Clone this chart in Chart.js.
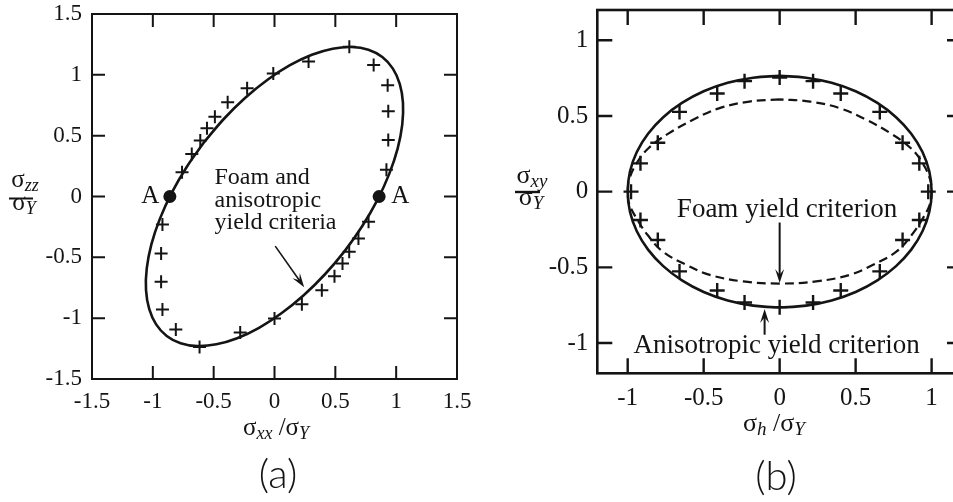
<!DOCTYPE html>
<html>
<head>
<meta charset="utf-8">
<script src="https://cdn.jsdelivr.net/npm/chart.js"></script>
<style>
  html, body { margin: 0; padding: 0; background: #fff; overflow: hidden; }
  #wrap { position: relative; width: 953px; height: 502px; overflow: hidden; }
  #box_a { position: absolute; left: 0; top: 0; }
  #box_b { position: absolute; left: 476px; top: 0; }
</style>
</head>
<body>
<div id="wrap">
  <div id="box_a"><canvas id="chart_a" width="476" height="502"></canvas></div>
  <div id="box_b"><canvas id="chart_b" width="504" height="502"></canvas></div>
</div>
<script>
// ---- data ----

// (a) sigma_xx / sigma_zz plane
const ticksA = [-1.5, -1, -0.5, 0, 0.5, 1, 1.5]
const tickLabelsA = ['-1.5', '-1', '-0.5', '0', '0.5', '1', '1.5']

// solid curve: foam and anisotropic yield criteria (same in this plane)
const criterionA = [
  [-0.578, 0.447], [-0.723, 0.241], [-0.846, 0.028], [-0.943, -0.186], [-1.012, -0.394],
  [-1.050, -0.591], [-1.056, -0.769], [-1.030, -0.924], [-0.973, -1.051], [-0.886, -1.146],
  [-0.772, -1.206], [-0.635, -1.229], [-0.478, -1.215], [-0.307, -1.165], [-0.127, -1.079],
  [0.057, -0.960], [0.240, -0.812], [0.415, -0.639], [0.578, -0.447], [0.723, -0.241],
  [0.846, -0.028], [0.943, 0.186], [1.012, 0.394], [1.050, 0.591], [1.056, 0.769],
  [1.030, 0.924], [0.973, 1.051], [0.886, 1.146], [0.772, 1.206], [0.635, 1.229],
  [0.478, 1.215], [0.307, 1.165], [0.127, 1.079], [-0.057, 0.960], [-0.240, 0.812],
  [-0.415, 0.639], [-0.578, 0.447]
]

// "+" markers
const crossesA = [
  [-0.76, 0.20], [-0.68, 0.35], [-0.61, 0.46], [-0.555, 0.56], [-0.49, 0.655],
  [-0.385, 0.775], [-0.225, 0.89], [-0.01, 1.01], [0.28, 1.11], [0.615, 1.23],
  [0.815, 1.08], [0.93, 0.915], [0.935, 0.70], [0.935, 0.465], [0.92, 0.22],
  [0.773, -0.208], [0.69, -0.345], [0.614, -0.455], [0.559, -0.551], [0.493, -0.655],
  [0.389, -0.77], [0.225, -0.885], [0.0, -1.003], [-0.282, -1.118], [-0.616, -1.236],
  [-0.811, -1.093], [-0.921, -0.929], [-0.932, -0.701], [-0.932, -0.468], [-0.921, -0.23]
]

// points A
const pointsA = [[-0.86, 0], [0.86, 0]]

// (b) sigma_h / sigma_xy plane
const ticksB = [-1, -0.5, 0, 0.5, 1]
const tickLabelsB = ['-1', '-0.5', '0', '0.5', '1']

// solid curve: anisotropic yield criterion
const anisoB = [
  [0, 0.765], [-0.174, 0.753], [-0.342, 0.719], [-0.5, 0.663], [-0.643, 0.586], [-0.766, 0.492],
  [-0.866, 0.383], [-0.94, 0.262], [-0.985, 0.133], [-1, 0], [-0.985, -0.133], [-0.94, -0.262],
  [-0.866, -0.383], [-0.766, -0.492], [-0.643, -0.586], [-0.5, -0.663], [-0.342, -0.719], [-0.174, -0.753],
  [0, -0.765], [0.174, -0.753], [0.342, -0.719], [0.5, -0.663], [0.643, -0.586], [0.766, -0.492],
  [0.866, -0.383], [0.94, -0.262], [0.985, -0.133], [1, 0], [0.985, 0.133], [0.94, 0.262],
  [0.866, 0.383], [0.766, 0.492], [0.643, 0.586], [0.5, 0.663], [0.342, 0.719], [0.174, 0.753],
  [0, 0.765]
]

// dashed curve: foam yield criterion
const foamB = [
  [0, 0.61], [-0.2, 0.595], [-0.4, 0.55], [-0.57, 0.475], [-0.73, 0.385], [-0.86, 0.29],
  [-0.94, 0.19], [-0.99, 0.08], [-1, 0], [-0.99, -0.08], [-0.94, -0.18], [-0.87, -0.285],
  [-0.77, -0.395], [-0.615, -0.483], [-0.46, -0.55], [-0.24, -0.593], [0, -0.607], [0.24, -0.593],
  [0.46, -0.55], [0.615, -0.483], [0.77, -0.395], [0.87, -0.285], [0.94, -0.18], [0.99, -0.08],
  [1, 0], [0.99, 0.08], [0.94, 0.19], [0.86, 0.29], [0.73, 0.385], [0.57, 0.475],
  [0.4, 0.55], [0.2, 0.595], [0, 0.61]
]

// "+" markers
const crossesB = [
  [0, 0.754], [0.22, 0.73], [0.402, 0.648], [0.659, 0.527], [0.809, 0.323], [0.919, 0.187],
  [0.978, 0], [-0.231, 0.73], [-0.411, 0.648], [-0.659, 0.527], [-0.802, 0.323], [-0.916, 0.187],
  [-0.978, 0], [0, -0.763], [0.22, -0.732], [0.402, -0.653], [0.659, -0.527], [0.809, -0.319],
  [0.919, -0.187], [-0.231, -0.732], [-0.411, -0.653], [-0.659, -0.527], [-0.802, -0.319],
  [-0.916, -0.187]
]

// ---- drawing helpers ----
const INK = '#141414'
const SERIF = '"Liberation Serif", "Times New Roman", serif'
const LABEL_FONT = '300 40px Lato, "Open Sans", sans-serif'
const xy = arr => arr.map(p => ({x: p[0], y: p[1]}))

Chart.defaults.font.family = SERIF
Chart.defaults.color = INK

function rich(ctx, x, y, segs, align){
  let w = 0
  segs.forEach(s => { ctx.font = s.f; s.w = ctx.measureText(s.t).width; w += s.w })
  let cx = align === 'center' ? x - w / 2 : x
  ctx.textAlign = 'left'
  ctx.textBaseline = 'alphabetic'
  segs.forEach(s => { ctx.font = s.f; ctx.fillText(s.t, cx, y + (s.dy || 0)); cx += s.w })
}

function arrow(ctx, x1, y1, x2, y2, lw){
  const a = Math.atan2(y2 - y1, x2 - x1)
  const L = 14, W = 4.5
  ctx.lineWidth = lw
  ctx.beginPath()
  ctx.moveTo(x1, y1)
  ctx.lineTo(x2 - Math.cos(a) * 6, y2 - Math.sin(a) * 6)
  ctx.stroke()
  ctx.beginPath()
  ctx.moveTo(x2, y2)
  ctx.lineTo(x2 - L * Math.cos(a) + W * Math.sin(a), y2 - L * Math.sin(a) - W * Math.cos(a))
  ctx.lineTo(x2 - 0.6 * L * Math.cos(a), y2 - 0.6 * L * Math.sin(a))
  ctx.lineTo(x2 - L * Math.cos(a) - W * Math.sin(a), y2 - L * Math.sin(a) + W * Math.cos(a))
  ctx.closePath()
  ctx.fill()
}

// frame with inward ticks on all four sides
const framePlugin = {
  id: 'frame',
  afterDraw(chart, args, opts){
    const ctx = chart.ctx
    const {left, right, top, bottom} = chart.chartArea
    const xs = chart.scales.x, ys = chart.scales.y
    ctx.save()
    ctx.strokeStyle = INK
    ctx.fillStyle = INK
    ctx.lineWidth = opts.tickWidth
    ctx.beginPath()
    opts.ticks.forEach(v => {
      const px = xs.getPixelForValue(v)
      if(px > left + 1 && px < right - 1){
        ctx.moveTo(px, bottom); ctx.lineTo(px, bottom - opts.tickLen)
        ctx.moveTo(px, top); ctx.lineTo(px, top + opts.tickLen)
      }
      const py = ys.getPixelForValue(v)
      if(py > top + 1 && py < bottom - 1){
        ctx.moveTo(left, py); ctx.lineTo(left + opts.tickLen, py)
        ctx.moveTo(right, py); ctx.lineTo(right - opts.tickLen, py)
      }
    })
    ctx.stroke()
    ctx.lineWidth = opts.borderWidth
    ctx.strokeRect(left, top, right - left, bottom - top)
    if(opts.extra) opts.extra(chart, ctx, xs, ys)
    ctx.restore()
  }
}

function scaleOpts(ticks, labels, size, pad, fitSize, horizontal){
  return {
    type: 'linear',
    min: ticks === ticksA ? -1.5 : -1.2,
    max: ticks === ticksA ? 1.5 : 1.2,
    afterBuildTicks: s => { s.ticks = ticks.map(v => ({value: v})) },
    afterFit: s => {
      if(horizontal) s.height = fitSize
      else s.width = fitSize
      s.paddingTop = 0; s.paddingBottom = 0; s.paddingLeft = 0; s.paddingRight = 0
    },
    ticks: {
      font: {family: SERIF, size: size},
      color: INK,
      padding: pad,
      maxRotation: 0,
      autoSkip: false,
      callback: v => labels[ticks.indexOf(v)]
    },
    grid: {display: false, drawTicks: false},
    border: {display: false}
  }
}

const common = {
  responsive: false,
  animation: false,
  events: [],
  plugins: {legend: {display: false}, tooltip: {enabled: false}}
}

// ---- chart (a) ----
new Chart(document.getElementById('chart_a'), {
  type: 'scatter',
  data: {
    datasets: [
      {data: xy(criterionA), showLine: true, tension: 0.4, borderColor: INK, borderWidth: 2.6, pointRadius: 0},
      {data: xy(crossesA), pointStyle: 'cross', pointRadius: 6.5, borderColor: INK, borderWidth: 2, backgroundColor: INK},
      {data: xy(pointsA), pointStyle: 'circle', pointRadius: 6.5, borderColor: INK, backgroundColor: INK, borderWidth: 0}
    ]
  },
  options: Object.assign({}, common, {
    layout: {padding: {top: 14, right: 19, left: 0, bottom: 0}},
    scales: {
      x: scaleOpts(ticksA, tickLabelsA, 23, 9, 123, true),
      y: scaleOpts(ticksA, tickLabelsA, 23, 10, 92, false)
    },
    plugins: Object.assign({}, common.plugins, {
      frame: {
        ticks: ticksA, tickLen: 13, tickWidth: 2, borderWidth: 2,
        extra(chart, ctx, xs, ys){
          const X = v => xs.getPixelForValue(v), Y = v => ys.getPixelForValue(v)
          ctx.textAlign = 'center'
          ctx.font = '25px ' + SERIF
          ctx.fillText('A', X(-1.022), Y(-0.053))
          ctx.fillText('A', X(1.033), Y(-0.053))
          ctx.textAlign = 'left'
          ctx.font = '24px ' + SERIF
          ctx.fillText('Foam and', X(-0.493), Y(0.099))
          ctx.fillText('anisotropic', X(-0.493), Y(-0.085))
          ctx.fillText('yield criteria', X(-0.493), Y(-0.271))
          arrow(ctx, X(0.006), Y(-0.408), X(0.244), Y(-0.745), 1.6)
          // axis titles
          const big = '25px ' + SERIF, sub = 'italic 18px ' + SERIF
          rich(ctx, 276, 435, [{t: 'σ', f: big}, {t: 'xx', f: sub, dy: 4}, {t: ' /', f: big}, {t: 'σ', f: big}, {t: 'Y', f: sub, dy: 4}], 'center')
          rich(ctx, 25, 187, [{t: 'σ', f: big}, {t: 'zz', f: sub, dy: 4}], 'center')
          ctx.lineWidth = 2
          ctx.beginPath(); ctx.moveTo(9, 198.5); ctx.lineTo(33, 198.5); ctx.stroke()
          rich(ctx, 24, 210, [{t: 'σ', f: big}, {t: 'Y', f: sub, dy: 4}], 'center')
          ctx.textAlign = 'center'
          ctx.font = LABEL_FONT
          ctx.fillText('(a)', 278, 488)
        }
      }
    })
  }),
  plugins: [framePlugin]
})

// ---- chart (b) ----
new Chart(document.getElementById('chart_b'), {
  type: 'scatter',
  data: {
    datasets: [
      {data: xy(anisoB), showLine: true, tension: 0.4, borderColor: INK, borderWidth: 2.6, pointRadius: 0},
      {data: xy(foamB), showLine: true, tension: 0.4, borderColor: INK, borderWidth: 2.2, borderDash: [9, 5], pointRadius: 0},
      {data: xy(crossesB), pointStyle: 'cross', pointRadius: 7.5, borderColor: INK, borderWidth: 2.4, backgroundColor: INK}
    ]
  },
  options: Object.assign({}, common, {
    layout: {padding: {top: 10, right: 18, left: 0, bottom: 0}},
    scales: {
      x: scaleOpts(ticksB, tickLabelsB, 25, 10, 128.7, true),
      y: scaleOpts(ticksB, tickLabelsB, 25, 9, 121.3, false)
    },
    plugins: Object.assign({}, common.plugins, {
      frame: {
        ticks: ticksB, tickLen: 15, tickWidth: 2.4, borderWidth: 2.6,
        extra(chart, ctx, xs, ys){
          const X = v => xs.getPixelForValue(v), Y = v => ys.getPixelForValue(v)
          ctx.textAlign = 'center'
          ctx.font = '27px ' + SERIF
          ctx.fillText('Foam yield criterion', X(0.049), Y(-0.165))
          ctx.fillText('Anisotropic yield criterion', X(-0.02), Y(-1.065))
          arrow(ctx, X(0), Y(-0.204), X(0), Y(-0.604), 2)
          arrow(ctx, X(-0.099), Y(-0.945), X(-0.099), Y(-0.776), 2)
          const big = '26px ' + SERIF, sub = 'italic 19px ' + SERIF
          rich(ctx, 298, 431, [{t: 'σ', f: big}, {t: 'h', f: sub, dy: 4}, {t: ' /', f: big}, {t: 'σ', f: big}, {t: 'Y', f: sub, dy: 4}], 'center')
          rich(ctx, 56, 183, [{t: 'σ', f: big}, {t: 'xy', f: sub, dy: 4}], 'center')
          ctx.lineWidth = 2.4
          ctx.beginPath(); ctx.moveTo(39, 192); ctx.lineTo(64, 192); ctx.stroke()
          rich(ctx, 55, 205, [{t: 'σ', f: big}, {t: 'Y', f: sub, dy: 4}], 'center')
          ctx.textAlign = 'center'
          ctx.font = LABEL_FONT
          ctx.fillText('(b)', 300, 490)
        }
      }
    })
  }),
  plugins: [framePlugin]
})
</script>
</body>
</html>
